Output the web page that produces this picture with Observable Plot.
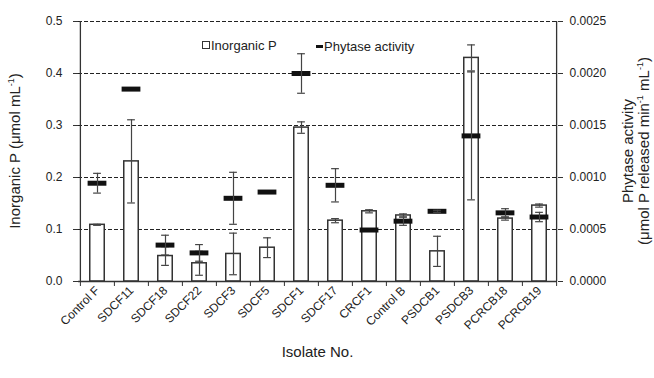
<!DOCTYPE html>
<html><head><meta charset="utf-8">
<script src="https://cdn.jsdelivr.net/npm/d3@7"></script>
<script src="https://cdn.jsdelivr.net/npm/@observablehq/plot@0.6"></script>
<style>
body{margin:0;background:#fff}
#chart svg{font-family:"Liberation Sans",Arial,sans-serif;display:block}
</style>
</head><body><div id="chart"></div>
<script>
const isolates = ["Control F","SDCF11","SDCF18","SDCF22","SDCF3","SDCF5","SDCF1","SDCF17","CRCF1","Control B","PSDCB1","PSDCB3","PCRCB18","PCRCB19"];
const inorganicP    = [0.109,0.231,0.049,0.035,0.053,0.065,0.296,0.117,0.135,0.127,0.058,0.430,0.121,0.146];
const inorganicPErr = [0.001,0.080,0.018,0.023,0.040,0.019,0.011,0.004,0.003,0.003,0.029,0.025,0.003,0.003];
const phytase       = [0.000945,0.00185,0.00035,0.000275,0.0008,0.00086,0.002,0.000925,0.000495,0.00058,0.000675,0.0014,0.00066,0.00062];
const phytaseErr    = [0.000095,0,0.000095,0.00008,0.00025,0,0.00019,0.00016,0,0.00004,0.00001,0.000615,0.00004,0.000045];
const leftTicks  = [0,0.1,0.2,0.3,0.4,0.5];
const rightTicks = [0,0.0005,0.001,0.0015,0.002,0.0025];

const ratio = leftTicks[leftTicks.length-1] / rightTicks[rightTicks.length-1];
const W = 654, H = 378, mL = 78, mR = 97, mT = 21, mB = 97;
const bw = (W - mL - mR) / isolates.length;
const barInset = (bw - 14.7) / 2;
const dashInset = (bw - 19) / 2;
const capInset = (bw - 8) / 2;

const data = isolates.map((name, i) => ({
  name, p: inorganicP[i], pe: inorganicPErr[i],
  ph: phytase[i] * ratio, phe: phytaseErr[i] * ratio
}));
const pErr = data.filter(d => d.pe > 0);
const hErr = data.filter(d => d.phe > 0);
const errStroke = "#444";

const chart = Plot.plot({
  width: W, height: H,
  marginLeft: mL, marginRight: mR, marginTop: mT, marginBottom: mB,
  style: {fontFamily: '"Liberation Sans", Arial, sans-serif', fontSize: "12px", color: "#222", background: "#fff"},
  x: {type: "band", domain: isolates, padding: 0, label: null},
  y: {domain: [0, 0.5], label: null},
  marks: [
    Plot.ruleY(leftTicks.slice(1), {stroke: "#222", strokeDasharray: "4,2", strokeWidth: 1}),
    Plot.barY(data, {x: "name", y: "p", fill: "white", stroke: "#333", strokeWidth: 1.5, insetLeft: barInset, insetRight: barInset}),
    Plot.ruleX(pErr, {x: "name", y1: d => d.p - d.pe, y2: d => d.p + d.pe, stroke: errStroke, strokeWidth: 1.2}),
    Plot.tickY(pErr, {x: "name", y: d => d.p - d.pe, stroke: errStroke, strokeWidth: 1.2, insetLeft: capInset, insetRight: capInset}),
    Plot.tickY(pErr, {x: "name", y: d => d.p + d.pe, stroke: errStroke, strokeWidth: 1.2, insetLeft: capInset, insetRight: capInset}),
    Plot.tickY(data, {x: "name", y: "ph", stroke: "#111", strokeWidth: 5, insetLeft: dashInset, insetRight: dashInset}),
    Plot.ruleX(hErr, {x: "name", y1: d => d.ph - d.phe, y2: d => d.ph + d.phe, stroke: errStroke, strokeWidth: 1.2}),
    Plot.tickY(hErr, {x: "name", y: d => d.ph - d.phe, stroke: errStroke, strokeWidth: 1.2, insetLeft: capInset, insetRight: capInset}),
    Plot.tickY(hErr, {x: "name", y: d => d.ph + d.phe, stroke: errStroke, strokeWidth: 1.2, insetLeft: capInset, insetRight: capInset}),
    Plot.ruleX([isolates[0]], {x: d => d, dx: -bw / 2, stroke: "#333", strokeWidth: 1.3}),
    Plot.ruleX([isolates[isolates.length - 1]], {x: d => d, dx: bw / 2, stroke: "#333", strokeWidth: 1.3}),
    Plot.ruleY([0], {stroke: "#333", strokeWidth: 1.3}),
    Plot.ruleX(isolates, {x: d => d, dx: -bw / 2, y1: 0, y2: -0.0096, stroke: "#333"}),
    Plot.ruleX([isolates[isolates.length - 1]], {x: d => d, dx: bw / 2, y1: 0, y2: -0.0096, stroke: "#333"}),
    Plot.axisX({tickSize: 0, tickRotate: -45, tickPadding: 7, label: null, fill: "#222"}),
    Plot.axisY({anchor: "left", ticks: leftTicks, tickFormat: d3.format(".1f"), tickSize: 5, tickPadding: 11, label: null, stroke: "#333"}),
    Plot.axisY({anchor: "right", ticks: leftTicks, tickFormat: d => (d / ratio).toFixed(4), tickSize: 5, tickPadding: 7, label: null, stroke: "#333"})
  ]
});
document.getElementById("chart").append(chart);

const svg = d3.select(chart);
const font = '"Liberation Sans", Arial, sans-serif';
// Legend
svg.append("rect").attr("x", 202.5).attr("y", 41.5).attr("width", 7).attr("height", 7)
  .attr("fill", "white").attr("stroke", "#333").attr("stroke-width", 1);
svg.append("text").attr("x", 211).attr("y", 50).attr("text-anchor", "start").attr("font-size", 13).attr("font-family", font).attr("fill", "#222").text("Inorganic P");
svg.append("rect").attr("x", 316).attr("y", 45).attr("width", 7).attr("height", 3).attr("fill", "#111");
svg.append("text").attr("x", 324).attr("y", 51).attr("text-anchor", "start").attr("font-size", 13).attr("font-family", font).attr("fill", "#222").text("Phytase activity");

// Axis titles
const cy = (mT + H - mB) / 2;
const lt = svg.append("text").attr("transform", `translate(20,${cy}) rotate(-90)`).attr("text-anchor", "middle")
  .attr("font-size", 15).attr("font-family", font).attr("fill", "#222");
lt.append("tspan").text("Inorganic P (μmol mL");
lt.append("tspan").attr("font-size", 9).attr("dy", -6).text("-1");
lt.append("tspan").attr("dy", 6).text(")");

const rt = svg.append("text").attr("transform", `translate(633,${cy}) rotate(-90)`).attr("text-anchor", "middle")
  .attr("font-size", 15).attr("font-family", font).attr("fill", "#222");
rt.append("tspan").text("Phytase activity");
const rt2 = svg.append("text").attr("transform", `translate(649,${cy}) rotate(-90)`).attr("text-anchor", "middle")
  .attr("font-size", 15).attr("font-family", font).attr("fill", "#222");
rt2.append("tspan").text("(μmol P released min");
rt2.append("tspan").attr("font-size", 9).attr("dy", -6).text("-1");
rt2.append("tspan").attr("dy", 6).text(" mL");
rt2.append("tspan").attr("font-size", 9).attr("dy", -6).text("-1");
rt2.append("tspan").attr("dy", 6).text(")");

svg.append("text").attr("x", (mL + W - mR) / 2).attr("y", 357).attr("text-anchor", "middle")
  .attr("font-size", 15).attr("font-family", font).attr("fill", "#222").text("Isolate No.");
</script>
</body></html>
